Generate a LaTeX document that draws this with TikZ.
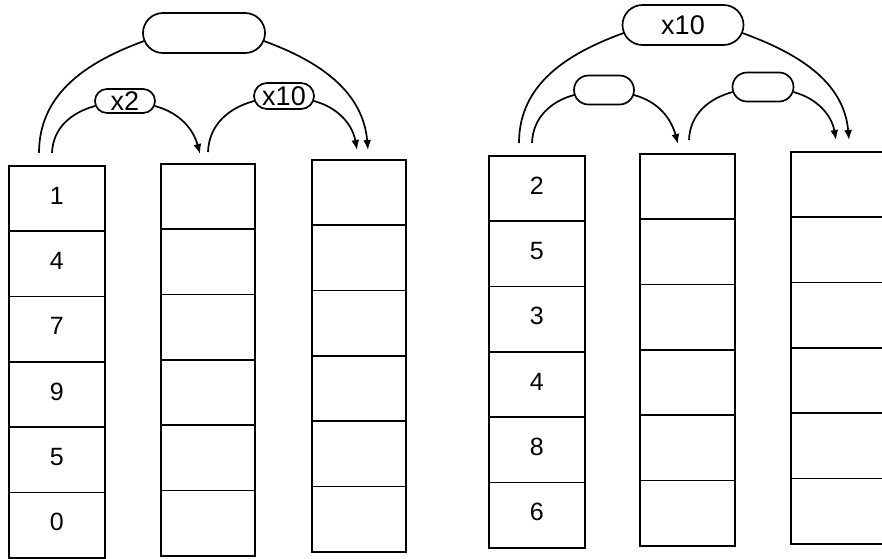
\documentclass[tikz,border=0pt]{standalone}
\usepackage{fontspec}
\setmainfont{Liberation Sans}
\usetikzlibrary{shapes.misc,arrows.meta}
\begin{document}
\begin{tikzpicture}[x=1pt,y=-1pt,
  cell/.style={draw,line width=1.7pt,anchor=north west,minimum height=65.3pt,inner sep=0pt},
  num/.style={inner sep=0pt,font=\fontsize{25}{25}\selectfont},
  pill/.style={draw,line width=1.7pt,rounded rectangle,inner sep=0pt,font=\fontsize{27}{27}\selectfont},
  arc/.style={line width=1.7pt},
  arr/.style={line width=1.7pt,-{Latex[length=10pt,width=8pt]}}]
\useasboundingbox (0,0) rectangle (882,558);
\clip (0,0) rectangle (882,558);
% columns of cells
\foreach \c/\x/\y/\w in {1/8/165/96, 2/160/163/94, 3/311/159/94, 4/488/155/96, 5/639/153/95, 6/790/151/95}
  \foreach \r in {1,...,6}
    \node[cell,minimum width=\w pt] (c\c r\r) at (\x,{\y+(\r-1)*65.3}) {};
% numbers
\foreach \v [count=\r] in {1,4,7,9,5,0}
  \node[num] (na\r) at ([yshift=3pt]c1r\r.center) {\v};
\foreach \v [count=\r] in {2,5,3,4,8,6}
  \node[num] (nb\r) at ([yshift=3pt]c4r\r.center) {\v};
% pills
\node[pill,minimum width=122pt,minimum height=40pt] (P1) at (204,33) {};
\node[pill,minimum width=60pt,minimum height=24pt] (P2) at (125,101) {x2};
\node[pill,minimum width=60pt,minimum height=26pt] (P3) at (284,96) {x10};
\node[pill,minimum width=121pt,minimum height=40pt] (P4) at (683,25) {x10};
\node[pill,minimum width=60pt,minimum height=29pt] (P5) at (604,90) {};
\node[pill,minimum width=61pt,minimum height=29pt] (P6) at (763,87) {};
% arc end points
\coordinate (s1) at (39,153);
\coordinate (e1) at (368,150);
\coordinate (s2) at (52,153);
\coordinate (e2) at (200,154);
\coordinate (s3) at (208,152);
\coordinate (e3) at (357,150);
\coordinate (s4) at (519,143);
\coordinate (e4) at (849,140);
\coordinate (s5) at (532,143);
\coordinate (e5) at (678,144);
\coordinate (s6) at (689,140);
\coordinate (e6) at (836,140);
% arcs
\draw[arc] (s1) to[out=90,in=200] ([xshift=2pt,yshift=-8pt]P1.west);
\draw[arr] ([xshift=-2pt,yshift=-8pt]P1.east) to[out=-20,in=95] (e1);
\draw[arc] (s2) to[out=88,in=195] ([xshift=1pt,yshift=-5pt]P2.west);
\draw[arr] ([xshift=-1pt,yshift=-5pt]P2.east) to[out=-15,in=105] (e2);
\draw[arc] (s3) to[out=88,in=195] ([xshift=1pt,yshift=-5pt]P3.west);
\draw[arr] ([xshift=-1pt,yshift=-5pt]P3.east) to[out=-15,in=100] (e3);
\draw[arc] (s4) to[out=90,in=200] ([xshift=2pt,yshift=-8pt]P4.west);
\draw[arr] ([xshift=-2pt,yshift=-8pt]P4.east) to[out=-20,in=95] (e4);
\draw[arc] (s5) to[out=88,in=195] ([xshift=1pt,yshift=-5pt]P5.west);
\draw[arr] ([xshift=-1pt,yshift=-5pt]P5.east) to[out=-15,in=105] (e5);
\draw[arc] (s6) to[out=88,in=195] ([xshift=1pt,yshift=-5pt]P6.west);
\draw[arr] ([xshift=-1pt,yshift=-5pt]P6.east) to[out=-15,in=100] (e6);
\end{tikzpicture}
\end{document}
